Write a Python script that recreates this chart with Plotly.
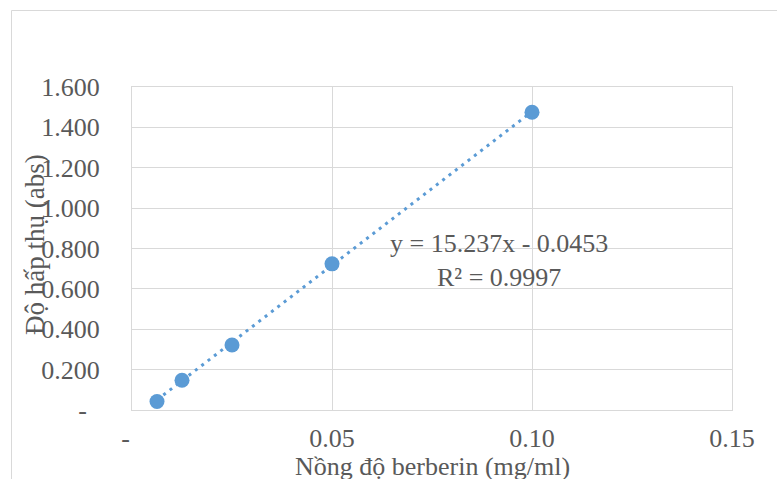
import numpy as np
import plotly.graph_objects as go

# Data
conc = [0.00625, 0.0125, 0.025, 0.05, 0.1]
absorb = [0.042, 0.147, 0.322, 0.724, 1.475]
slope = 15.237
intercept = -0.0453
eq_text = "y = 15.237x - 0.0453"
r2_text = "R² = 0.9997"
x_tickvals = [0, 0.05, 0.10, 0.15]
x_ticktext = ["-\u00a0\u00a0", "0.05", "0.10", "0.15"]
y_tickvals = [0, 0.2, 0.4, 0.6, 0.8, 1.0, 1.2, 1.4, 1.6]
y_ticktext = ["-\u00a0\u00a0", "0.200", "0.400", "0.600", "0.800", "1.000", "1.200", "1.400", "1.600"]
x_title = "Nồng độ berberin (mg/ml)"
y_title = "Độ hấp thụ (abs)"

BLUE = "#5B9BD5"
GRID = "#D9D9D9"
TXT = "#595959"
FONT = "Liberation Serif, Times New Roman, serif"
FS = 26

trend_x = np.array([min(conc), max(conc)])
trend_y = slope * trend_x + intercept

fig = go.Figure()
fig.add_trace(go.Scatter(x=trend_x, y=trend_y, mode="lines",
                         line=dict(color=BLUE, width=3, dash="3px,5px"),
                         hoverinfo="skip", showlegend=False))
fig.add_trace(go.Scatter(x=conc, y=absorb, mode="markers",
                         marker=dict(color=BLUE, size=15, line=dict(width=0)),
                         showlegend=False))

W, H = 777, 479
L, R, T, B = 132, 45, 87, 69
pw, ph = W - L - R, H - T - B

def px_x(p):
    return (p - L) / pw

def px_y(p):
    return (H - B - p) / ph

fig.add_annotation(x=0.1, y=0.73, xref="x", yref="y",
                   text=eq_text + "<br>" + r2_text, showarrow=False,
                   xanchor="center", yanchor="middle", align="center",
                   font=dict(family=FONT, size=FS, color=TXT),
                   xshift=-33, yshift=2)

# axis titles
fig.add_annotation(x=0.5, y=px_y(466), xref="paper", yref="paper",
                   text=x_title, showarrow=False, xanchor="center", yanchor="middle",
                   font=dict(family=FONT, size=FS, color=TXT))
fig.add_annotation(x=px_x(35), y=px_y(245), xref="paper", yref="paper",
                   text=y_title, showarrow=False, textangle=-90,
                   xanchor="center", yanchor="middle",
                   font=dict(family=FONT, size=27, color=TXT))

# chart-area border
fig.add_shape(type="rect", xref="paper", yref="paper",
              x0=px_x(11.5), x1=px_x(800),
              y0=px_y(500), y1=px_y(10.5),
              line=dict(color=GRID, width=1), fillcolor="rgba(0,0,0,0)", layer="below")

fig.update_layout(
    width=W, height=H,
    margin=dict(l=L, r=R, t=T, b=B, pad=0),
    paper_bgcolor="white", plot_bgcolor="white",
    font=dict(family=FONT, size=FS, color=TXT),
    xaxis=dict(range=[0, 0.15], tickvals=x_tickvals, ticktext=x_ticktext,
               showgrid=True, gridcolor=GRID, gridwidth=1,
               showline=True, linecolor=GRID, linewidth=1, mirror=True,
               zeroline=False, ticks="", ticklabelstandoff=5,
               tickfont=dict(family=FONT, size=FS, color=TXT)),
    yaxis=dict(range=[0, 1.6], tickvals=y_tickvals, ticktext=y_ticktext,
               showgrid=True, gridcolor=GRID, gridwidth=1,
               showline=True, linecolor=GRID, linewidth=1, mirror=True,
               zeroline=False, ticks="", ticklabelstandoff=26,
               tickfont=dict(family=FONT, size=FS, color=TXT)),
)

fig.write_html("out.html")
